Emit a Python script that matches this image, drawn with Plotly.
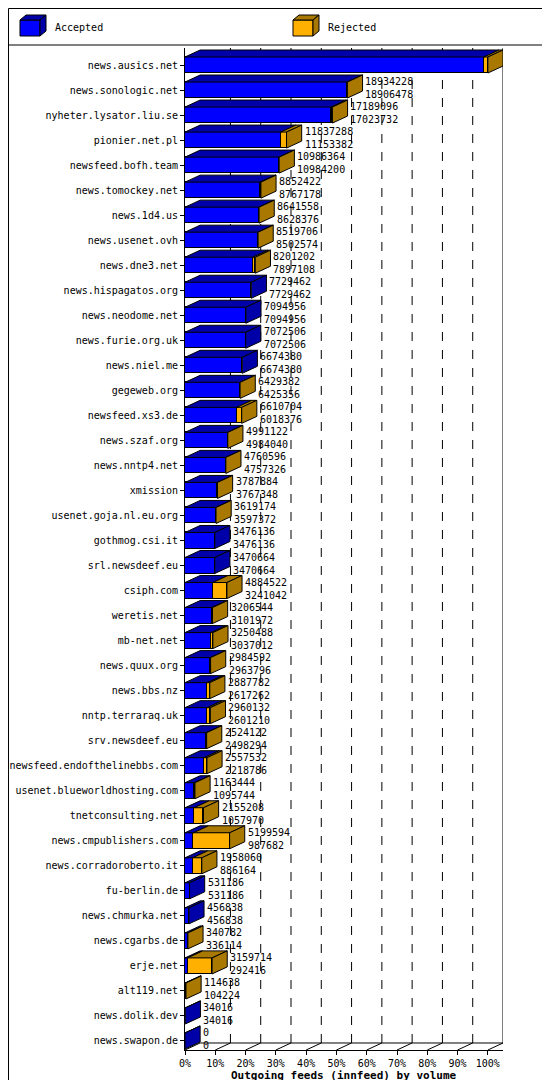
import plotly.graph_objects as go

hosts = ["news.ausics.net","news.sonologic.net","nyheter.lysator.liu.se","pionier.net.pl","newsfeed.bofh.team",
"news.tomockey.net","news.1d4.us","news.usenet.ovh","news.dne3.net","news.hispagatos.org","news.neodome.net",
"news.furie.org.uk","news.niel.me","gegeweb.org","newsfeed.xs3.de","news.szaf.org","news.nntp4.net","xmission",
"usenet.goja.nl.eu.org","gothmog.csi.it","srl.newsdeef.eu","csiph.com","weretis.net","mb-net.net","news.quux.org",
"news.bbs.nz","nntp.terraraq.uk","srv.newsdeef.eu","newsfeed.endofthelinebbs.com","usenet.blueworldhosting.com",
"tnetconsulting.net","news.cmpublishers.com","news.corradoroberto.it","fu-berlin.de","news.chmurka.net",
"news.cgarbs.de","erje.net","alt119.net","news.dolik.dev","news.swapon.de"]
offered = [35308962,18934228,17189096,11837288,10986364,8852422,8641558,8519706,8201202,7729462,7094956,7072506,
6674380,6429382,6610704,4991122,4760596,3787884,3619174,3476136,3470664,4884522,3206544,3250488,2984592,2887782,
2960132,2524122,2557532,1163444,2155208,5199594,1958060,531186,456838,340782,3159714,114638,34016,0]
accepted = [34840164,18906478,17023732,11153382,10984200,8767178,8628376,8502574,7897108,7729462,7094956,7072506,
6674380,6425356,6018376,4984040,4757326,3767348,3597372,3476136,3470664,3241042,3101972,3037012,2963796,2617262,
2601210,2498294,2218786,1095744,1057970,987682,886164,531186,456838,336114,292416,104224,34016,0]
tick_pct = [0,10,20,30,40,50,60,70,80,90,100]
legend_names = ["Accepted", "Rejected"]

MAXV = max(offered)
BLUE, BLUE_D, ORG, ORG_D = "#0000ff", "#0000a8", "#ffb000", "#a87800"
H, DX, DY = 0.32, 5.0, 0.28
FONT = "DejaVu Sans Mono"
YB, YT = -39.36, 0.68

def px(x): return (x - 177) / 318
def py(y): return (1042 - y) / 1002

ys = [-i for i in range(len(hosts))]
acc = [a / MAXV * 100 for a in accepted]
rej = [(o - a) / MAXV * 100 for o, a in zip(offered, accepted)]

fig = go.Figure()
fig.add_trace(go.Bar(y=ys, x=acc, orientation="h", width=2*H, marker=dict(color=BLUE, line=dict(color="black", width=1)),
                     name=legend_names[0], hoverinfo="skip"))
fig.add_trace(go.Bar(y=ys, x=rej, base=acc, orientation="h", width=2*H, marker=dict(color=ORG, line=dict(color="black", width=1)),
                     name=legend_names[1], hoverinfo="skip"))

shapes = []
for p in tick_pct[1:-1]:
    shapes.append(dict(type="line", xref="x", yref="y", x0=p+DX, x1=p+DX, y0=YB+DY, y1=YT,
                       line=dict(color="black", width=1, dash="dash"), layer="below"))
shapes.append(dict(type="line", xref="x", yref="y", x0=100+DX, x1=100+DX, y0=YB+DY, y1=YT, line=dict(color="black", width=1), layer="below"))
shapes.append(dict(type="line", xref="x", yref="y", x0=DX, x1=100+DX, y0=YB+DY, y1=YB+DY, line=dict(color="black", width=1), layer="below"))
for p in tick_pct:
    shapes.append(dict(type="line", xref="x", yref="y", x0=p, x1=p+DX, y0=YB, y1=YB+DY, line=dict(color="black", width=1), layer="below"))

def path(pts):
    return "M " + " L ".join(f"{x},{y}" for x, y in pts) + " Z"

ann = []
for y, a, r, o, ac in zip(ys, acc, rej, offered, accepted):
    t = a + r
    top = y + H
    shapes.append(dict(type="path", xref="x", yref="y", path=path([(0, top), (a, top), (a+DX, top+DY), (DX, top+DY)]),
                       fillcolor=BLUE_D, line=dict(color="black", width=1)))
    if r > 0:
        shapes.append(dict(type="path", xref="x", yref="y", path=path([(a, top), (t, top), (t+DX, top+DY), (a+DX, top+DY)]),
                           fillcolor=ORG_D, line=dict(color="black", width=1)))
    side = ORG_D if o > ac else BLUE_D
    shapes.append(dict(type="path", xref="x", yref="y", path=path([(t, y-H), (t+DX, y-H+DY), (t+DX, top+DY), (t, top)]),
                       fillcolor=side, line=dict(color="black", width=1)))
    ann.append(dict(x=t+DX+0.3, y=y+0.08, xref="x", yref="y", text=f"{o}<br>{ac}", showarrow=False, xanchor="left",
                    yanchor="middle", align="left", font=dict(family=FONT, size=10, color="black")))

# frame, legend box, manual legend
shapes.append(dict(type="rect", xref="paper", yref="paper", x0=px(0.5), x1=px(549.5), y0=py(1079.5), y1=py(0.5),
                   line=dict(color="black", width=1), fillcolor="rgba(0,0,0,0)"))
shapes.append(dict(type="line", xref="paper", yref="paper", x0=px(0.5), x1=px(549.5), y0=py(37), y1=py(37),
                   line=dict(color="black", width=1)))
for (lx, front, dark, name) in [(12, BLUE, BLUE_D, legend_names[0]), (285, ORG, ORG_D, legend_names[1])]:
    shapes.append(dict(type="rect", xref="paper", yref="paper", x0=px(lx), x1=px(lx+20), y0=py(28), y1=py(12),
                       fillcolor=front, line=dict(color="black", width=1)))
    shapes.append(dict(type="path", xref="paper", yref="paper",
                       path=path([(px(lx), py(12)), (px(lx+6), py(7)), (px(lx+26), py(7)), (px(lx+20), py(12))]),
                       fillcolor=dark, line=dict(color="black", width=1)))
    shapes.append(dict(type="path", xref="paper", yref="paper",
                       path=path([(px(lx+20), py(12)), (px(lx+26), py(7)), (px(lx+26), py(23)), (px(lx+20), py(28))]),
                       fillcolor=dark, line=dict(color="black", width=1)))
    ann.append(dict(x=px(lx+33), y=py(20), xref="paper", yref="paper", text=name, showarrow=False, xanchor="left",
                    yanchor="middle", font=dict(family=FONT, size=10, color="black")))
ann.append(dict(x=0.5, xref="paper", y=py(1067), yref="paper", text="<b>Outgoing feeds (innfeed) by volume</b>", showarrow=False,
                yanchor="middle", font=dict(family=FONT, size=11, color="black")))

fig.update_layout(
    width=550, height=1080, margin=dict(l=177, r=55, t=40, b=38, autoexpand=False),
    paper_bgcolor="white", plot_bgcolor="white", barmode="stack", bargap=0,
    shapes=shapes, annotations=ann, showlegend=False,
    xaxis=dict(range=[0, 105], tickvals=tick_pct, ticktext=[f"{p}%" for p in tick_pct], showgrid=False, zeroline=False,
               showline=True, linecolor="black", ticks="outside", ticklen=4, tickcolor="black", automargin=False,
               tickfont=dict(family=FONT, size=10, color="black"), fixedrange=True),
    yaxis=dict(range=[YB, YT], tickvals=ys, ticktext=hosts, showgrid=False, zeroline=False, showline=True,
               linecolor="black", ticks="outside", ticklen=4, tickcolor="black", automargin=False,
               tickfont=dict(family=FONT, size=10, color="black"), fixedrange=True),
)
fig.write_html("out.html")
